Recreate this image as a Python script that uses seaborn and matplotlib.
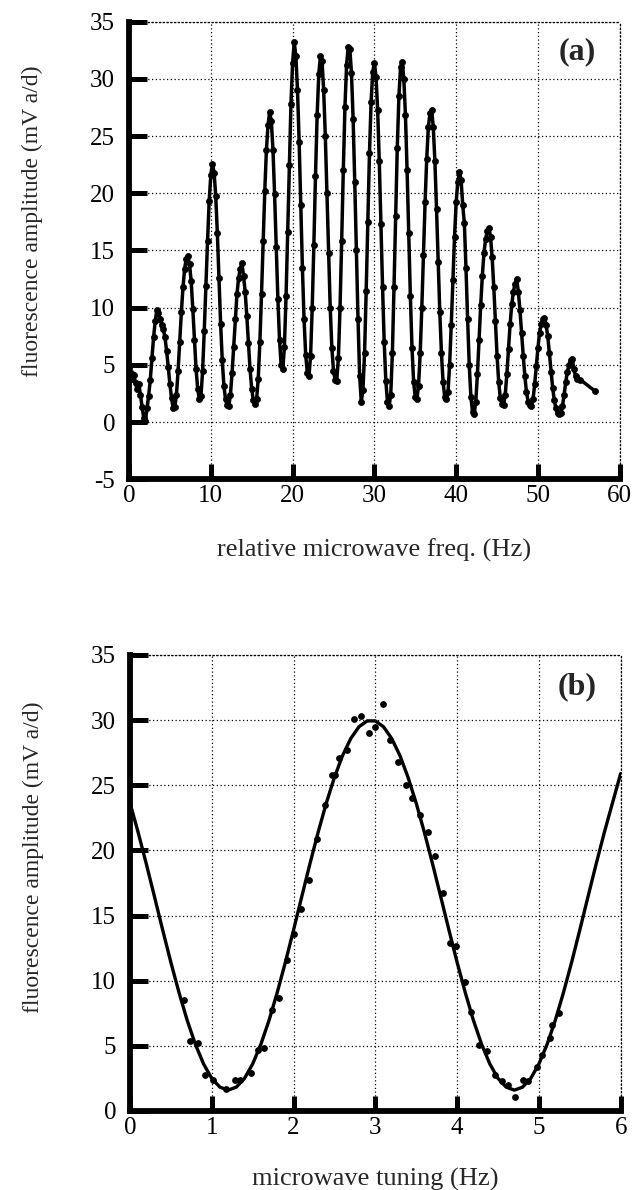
import matplotlib
matplotlib.use("Agg")
import matplotlib.pyplot as plt
import seaborn as sns

# ---------------- panel (a) data ----------------
freq_a = [
    0.0, 0.2, 0.4, 0.6, 0.8, 1.0, 1.2, 1.4, 1.6, 1.8, 2.0, 2.2, 2.4, 2.6, 2.8, 3.0, 3.2, 3.4, 3.6, 3.8,
    4.0, 4.2, 4.4, 4.6, 4.8, 5.0, 5.2, 5.4, 5.6, 5.8, 6.0, 6.2, 6.4, 6.6, 6.8, 7.0, 7.2, 7.4, 7.6, 7.8,
    8.0, 8.2, 8.4, 8.6, 8.8, 9.0, 9.2, 9.4, 9.6, 9.8, 10.0, 10.2, 10.4, 10.6, 10.8, 11.0, 11.2, 11.4, 11.6, 11.8,
    12.0, 12.2, 12.4, 12.6, 12.8, 13.0, 13.2, 13.4, 13.6, 13.8, 14.0, 14.2, 14.4, 14.6, 14.8, 15.0, 15.2, 15.4, 15.6, 15.8,
    16.0, 16.2, 16.4, 16.6, 16.8, 17.0, 17.2, 17.4, 17.6, 17.8, 18.0, 18.2, 18.4, 18.6, 18.8, 19.0, 19.2, 19.4, 19.6, 19.8,
    20.0, 20.2, 20.4, 20.6, 20.8, 21.0, 21.2, 21.4, 21.6, 21.8, 22.0, 22.2, 22.4, 22.6, 22.8, 23.0, 23.2, 23.4, 23.6, 23.8,
    24.0, 24.2, 24.4, 24.6, 24.8, 25.0, 25.2, 25.4, 25.6, 25.8, 26.0, 26.2, 26.4, 26.6, 26.8, 27.0, 27.2, 27.4, 27.6, 27.8,
    28.0, 28.2, 28.4, 28.6, 28.8, 29.0, 29.2, 29.4, 29.6, 29.8, 30.0, 30.2, 30.4, 30.6, 30.8, 31.0, 31.2, 31.4, 31.6, 31.8,
    32.0, 32.2, 32.4, 32.6, 32.8, 33.0, 33.2, 33.4, 33.6, 33.8, 34.0, 34.2, 34.4, 34.6, 34.8, 35.0, 35.2, 35.4, 35.6, 35.8,
    36.0, 36.2, 36.4, 36.6, 36.8, 37.0, 37.2, 37.4, 37.6, 37.8, 38.0, 38.2, 38.4, 38.6, 38.8, 39.0, 39.2, 39.4, 39.6, 39.8,
    40.0, 40.2, 40.4, 40.6, 40.8, 41.0, 41.2, 41.4, 41.6, 41.8, 42.0, 42.2, 42.4, 42.6, 42.8, 43.0, 43.2, 43.4, 43.6, 43.8,
    44.0, 44.2, 44.4, 44.6, 44.8, 45.0, 45.2, 45.4, 45.6, 45.8, 46.0, 46.2, 46.4, 46.6, 46.8, 47.0, 47.2, 47.4, 47.6, 47.8,
    48.0, 48.2, 48.4, 48.6, 48.8, 49.0, 49.2, 49.4, 49.6, 49.8, 50.0, 50.2, 50.4, 50.6, 50.8, 51.0, 51.2, 51.4, 51.6, 51.8,
    52.0, 52.2, 52.4, 52.6, 52.8, 53.0, 53.2, 53.4, 53.6, 53.8, 54.0, 54.2, 54.4, 54.6, 54.8, 55.2, 57.0,
]
amp_a = [
    4.7, 4.3, 3.8, 4.1, 3.4, 2.9, 3.3, 2.4, 1.3, 0.4, 0.1, 1.2, 2.3, 3.7, 5.6, 7.4, 8.8, 9.8, 9.5, 9.0,
    8.5, 8.1, 7.4, 6.2, 4.8, 3.3, 2.1, 1.2, 1.3, 2.4, 4.5, 7.0, 9.6, 11.8, 13.4, 14.3, 14.5, 13.8, 12.3, 9.9,
    7.2, 4.6, 2.9, 2.0, 2.3, 4.5, 8.0, 11.9, 15.8, 19.3, 21.6, 22.6, 21.8, 19.8, 16.5, 12.6, 8.6, 5.4, 3.2, 2.0,
    1.5, 1.4, 2.4, 4.3, 6.6, 9.0, 11.2, 12.6, 13.4, 13.9, 12.8, 11.4, 9.3, 6.9, 4.6, 2.9, 1.9, 1.6, 2.0, 3.8,
    7.0, 11.2, 15.8, 20.2, 23.8, 26.0, 27.1, 26.3, 23.8, 19.9, 15.3, 10.8, 7.2, 5.0, 4.6, 6.6, 11.0, 16.6, 22.5, 27.8,
    31.4, 33.2, 32.0, 29.0, 24.5, 19.0, 13.5, 9.0, 5.9, 4.3, 4.0, 5.8, 10.0, 15.5, 21.5, 26.8, 30.4, 32.0, 31.6, 29.0,
    25.0, 20.0, 14.8, 10.0, 6.5, 4.5, 3.7, 3.6, 5.6, 10.0, 15.8, 22.0, 27.5, 31.2, 32.8, 32.6, 30.5, 26.5, 21.0, 15.0,
    9.0, 4.0, 1.8, 2.8, 6.0, 11.5, 17.5, 23.5, 28.0, 30.6, 31.4, 30.2, 27.3, 22.8, 17.3, 11.8, 7.0, 3.6, 1.8, 1.4,
    2.4, 6.0, 11.8, 18.0, 24.0, 28.5, 31.0, 31.5, 30.0, 26.8, 22.0, 16.5, 11.0, 6.5, 3.5, 2.2, 2.0, 3.2, 6.0, 10.0,
    14.6, 19.2, 23.0, 25.8, 27.0, 27.3, 25.8, 22.8, 18.6, 14.0, 9.6, 6.0, 3.5, 2.2, 2.0, 2.6, 5.0, 8.5, 12.4, 16.2,
    19.2, 21.0, 21.9, 21.2, 19.0, 17.4, 13.5, 9.0, 5.0, 2.2, 0.9, 0.7, 1.8, 4.2, 7.2, 10.2, 12.8, 14.8, 16.0, 16.7,
    17.0, 16.2, 14.4, 11.8, 8.8, 5.8, 3.5, 2.1, 1.6, 1.5, 2.4, 4.2, 6.4, 8.6, 10.3, 11.4, 12.1, 12.5, 11.4, 9.8,
    7.8, 5.8, 4.0, 2.6, 1.8, 1.5, 1.4, 2.0, 3.3, 4.9, 6.5, 7.8, 8.6, 9.0, 9.1, 8.5, 7.5, 6.0, 4.4, 3.0,
    1.9, 1.2, 0.8, 0.7, 0.8, 1.4, 2.4, 3.5, 4.4, 5.0, 5.4, 5.5, 4.6, 4.0, 3.8, 3.7, 2.7,
]

# ---------------- panel (b) data ----------------
tune_pts = [0.66, 0.74, 0.83, 0.92, 1.02, 1.17, 1.29, 1.35, 1.48, 1.56, 1.64, 1.74, 1.82, 1.92,
            2.00, 2.09, 2.19, 2.29, 2.38, 2.47, 2.51, 2.55, 2.65, 2.74, 2.82, 2.92, 3.00, 3.09,
            3.18, 3.28, 3.37, 3.45, 3.55, 3.65, 3.73, 3.83, 3.91, 3.99, 4.10, 4.17, 4.27, 4.36,
            4.46, 4.55, 4.62, 4.71, 4.81, 4.87, 4.98, 5.04, 5.14, 5.16, 5.25]
amp_pts = [8.5, 5.4, 5.2, 2.8, 2.4, 1.7, 2.4, 2.4, 2.9, 4.7, 4.8, 7.75, 8.65, 11.6,
           13.6, 15.5, 17.7, 20.9, 23.5, 25.8, 25.8, 27.1, 27.7, 30.1, 30.3, 29.0, 29.5, 31.2,
           28.5, 26.8, 25.0, 24.0, 22.7, 21.4, 19.6, 16.7, 12.9, 12.7, 9.9, 7.6, 5.1, 4.6,
           2.8, 2.3, 2.0, 1.1, 2.4, 2.3, 3.4, 4.3, 5.6, 6.6, 7.5]

tune_fit = [0.0, 0.1, 0.2, 0.3, 0.4, 0.5, 0.6, 0.7, 0.8, 0.9, 1.0, 1.1, 1.2, 1.3, 1.4, 1.5,
            1.6, 1.7, 1.8, 1.9, 2.0, 2.1, 2.2, 2.3, 2.4, 2.5, 2.6, 2.7, 2.8, 2.9, 3.0, 3.1,
            3.2, 3.3, 3.4, 3.5, 3.6, 3.7, 3.8, 3.9, 4.0, 4.1, 4.2, 4.3, 4.4, 4.5, 4.6, 4.7,
            4.8, 4.9, 5.0, 5.1, 5.2, 5.3, 5.4, 5.5, 5.6, 5.7, 5.8, 5.9, 6.0]
amp_fit = [23.65, 21.38, 18.96, 16.44, 13.89, 11.41, 9.08, 6.95, 5.11, 3.61, 2.50, 1.83, 1.60,
           1.83, 2.50, 3.61, 5.11, 6.95, 9.08, 11.41, 13.89, 16.44, 18.96, 21.38, 23.62, 25.61,
           27.29, 28.59, 29.49, 29.94, 29.94, 29.49, 28.59, 27.29, 25.61, 23.62, 21.38, 18.96,
           16.44, 13.89, 11.41, 9.08, 6.95, 5.11, 3.61, 2.50, 1.83, 1.60, 1.83, 2.50, 3.61,
           5.11, 6.95, 9.08, 11.41, 13.89, 16.44, 18.96, 21.38, 23.65, 25.9]

a_xticks = [0, 10, 20, 30, 40, 50, 60]
a_yticks = [-5, 0, 5, 10, 15, 20, 25, 30, 35]
b_xticks = [0, 1, 2, 3, 4, 5, 6]
b_yticks = [0, 5, 10, 15, 20, 25, 30, 35]

ylabel_txt = "fluorescence amplitude (mV a/d)"

sns.set_theme(style="white")
plt.rcParams['font.family'] = ['Liberation Serif', 'DejaVu Serif']
plt.rcParams['axes.unicode_minus'] = False

fig = plt.figure(figsize=(6.34, 11.90), dpi=100)
ax1 = fig.add_axes([0.2035, 0.5972, 0.774, 0.3846])
ax2 = fig.add_axes([0.2050, 0.0664, 0.774, 0.3832])

sns.lineplot(x=freq_a, y=amp_a, ax=ax1, color='black', linewidth=2.5, marker='o',
             markersize=4.4, markeredgecolor='black', markeredgewidth=0.5,
             estimator=None, sort=False, zorder=3)

sns.lineplot(x=tune_fit, y=amp_fit, ax=ax2, color='black', linewidth=2.4,
             estimator=None, sort=False, zorder=3)
sns.scatterplot(x=tune_pts, y=amp_pts, ax=ax2, color='black', s=24, edgecolor='black',
                linewidth=0, zorder=4)


def style(ax, xlim, ylim, xticks, yticks, xlabel, letter, xlab_y, ylab_y, letter_xy):
    ax.set_xlim(*xlim)
    ax.set_ylim(*ylim)
    ax.set_xticks(xticks)
    ax.set_yticks(yticks)
    ax.grid(True, color='black', linestyle=(0, (1, 2)), linewidth=0.9)
    ax.set_axisbelow(True)
    for s in ['left', 'bottom']:
        ax.spines[s].set_visible(True)
        ax.spines[s].set_color('black')
        ax.spines[s].set_linewidth(4.2)
        ax.spines[s].set_capstyle('projecting')
    for s in ['top', 'right']:
        ax.spines[s].set_visible(True)
        ax.spines[s].set_color('black')
        ax.spines[s].set_linewidth(0.9)
        ax.spines[s].set_linestyle((0, (1, 2)))
    ax.tick_params(axis='y', direction='in', length=13, width=3.6, colors='black',
                   labelsize=18, pad=10, left=True, right=False)
    ax.tick_params(axis='x', direction='in', length=11, width=3.6, colors='black',
                   labelsize=18, pad=4, bottom=True, top=False)
    ax.set_xlabel(xlabel, fontsize=19, va='center')
    ax.xaxis.set_label_coords(0.5, xlab_y)
    ax.set_ylabel(ylabel_txt, fontsize=17, va='center')
    ax.yaxis.set_label_coords(-0.196, ylab_y)
    ax.text(letter_xy[0], letter_xy[1], letter, transform=ax.transAxes, fontsize=23,
            fontweight='bold', ha='center', va='center')


style(ax1, (0, 60), (-5, 35), a_xticks, a_yticks, "relative microwave freq. (Hz)",
      "(a)", -0.155, 0.564, (0.913, 0.934))
style(ax2, (0, 6), (0, 35), b_xticks, b_yticks, "microwave tuning (Hz)",
      "(b)", -0.151, 0.557, (0.911, 0.930))

fig.savefig("out.png", dpi=100, facecolor='white')
